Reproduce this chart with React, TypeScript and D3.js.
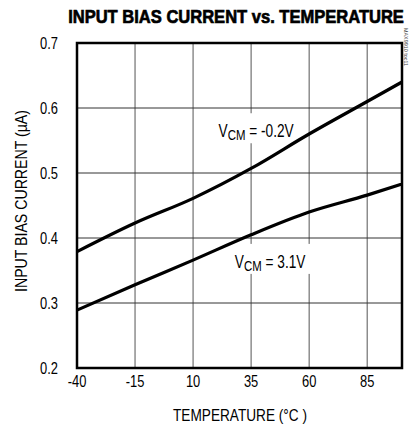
import React, { useEffect, useRef } from "react";
import * as d3 from "d3";

// temperature (°C) sample points
const temps = [-40, -15, 10, 35, 60, 85, 100];
const biasLow = [0.379, 0.423, 0.461, 0.507, 0.56, 0.61, 0.64]; // VCM = -0.2V
const biasHigh = [0.289, 0.328, 0.366, 0.405, 0.44, 0.466, 0.483]; // VCM = 3.1V

const xTicks = [-40, -15, 10, 35, 60, 85];
const yTicks = [0.2, 0.3, 0.4, 0.5, 0.6, 0.7];

const FONT = "'Liberation Sans', Arial, sans-serif";
const SQUEEZE = 0.76; // fake a condensed face

const App = () => {
	const svgRef = useRef<SVGSVGElement>(null);

	useEffect(() => {
		const W = 411;
		const H = 427;
		const margin = { top: 43, right: 9, bottom: 59, left: 77 };

		const svg = d3.select(svgRef.current);
		svg.selectAll("*").remove();

		const x = d3.scaleLinear().domain([-40, 100]).range([margin.left, W - margin.right]);
		const y = d3.scaleLinear().domain([0.2, 0.7]).range([H - margin.bottom, margin.top]);

		svg.append("rect").attr("width", W).attr("height", H).attr("fill", "#fff");

		const narrow = (px: number, py: number, size: number, anchor = "start", sx = SQUEEZE) =>
			svg.append("g")
				.attr("transform", `translate(${px},${py}) scale(${sx},1)`)
				.append("text")
				.attr("text-anchor", anchor)
				.style("font-family", FONT)
				.style("font-size", size + "px");

		// title, squeezed to fit the width it has in the original
		const title = narrow(236, 23, 19, "middle", 1)
			.style("font-weight", "bold")
			.style("stroke", "#000")
			.style("stroke-width", 0.7)
			.text("INPUT BIAS CURRENT vs. TEMPERATURE");
		const tw = (title.node() as SVGTextElement).getComputedTextLength() || 400;
		d3.select(title.node().parentNode as SVGGElement).attr("transform", `translate(236,23) scale(${336 / tw},1)`);

		// grid
		svg.selectAll(".vgrid")
			.data(xTicks.slice(1))
			.join("line")
			.attr("x1", (d) => x(d))
			.attr("x2", (d) => x(d))
			.attr("y1", y(0.7))
			.attr("y2", y(0.2))
			.attr("stroke", "#555")
			.attr("stroke-width", 1);

		svg.selectAll(".hgrid")
			.data(yTicks.slice(1, -1))
			.join("line")
			.attr("x1", x(-40))
			.attr("x2", x(100))
			.attr("y1", (d) => y(d))
			.attr("y2", (d) => y(d))
			.attr("stroke", "#333")
			.attr("stroke-width", 1);

		const line = d3
			.line<number>()
			.x((d, i) => x(temps[i]))
			.y((d) => y(d))
			.curve(d3.curveMonotoneX);

		// label boxes hide the grid behind the labels
		const label = (t: number, v: number, main: string, w: number) => {
			svg.append("rect")
				.attr("x", x(t) - 2)
				.attr("y", y(v) - 24)
				.attr("width", w + 4)
				.attr("height", 30)
				.attr("fill", "#fff");
			const txt = narrow(x(t), y(v), 18);
			txt.append("tspan").text("V");
			txt.append("tspan").attr("dy", 3).style("font-size", "15px").text("CM");
			txt.append("tspan").attr("dy", -3).text(" = " + main);
		};

		label(21, 0.555, "-0.2V", 79);
		label(28, 0.354, "3.1V", 75);

		svg.append("path")
			.datum(biasLow)
			.attr("d", line)
			.attr("fill", "none")
			.attr("stroke", "#000")
			.attr("stroke-width", 3.2);

		svg.append("path")
			.datum(biasHigh)
			.attr("d", line)
			.attr("fill", "none")
			.attr("stroke", "#000")
			.attr("stroke-width", 3.2);

		// frame
		svg.append("rect")
			.attr("x", x(-40))
			.attr("y", y(0.7))
			.attr("width", x(100) - x(-40))
			.attr("height", y(0.2) - y(0.7))
			.attr("fill", "none")
			.attr("stroke", "#000")
			.attr("stroke-width", 2.5);

		// tick labels
		xTicks.forEach((d) => {
			narrow(x(d), 387, 17, "middle").text(String(d));
		});

		yTicks.forEach((d) => {
			narrow(58, y(d) + 6, 17, "end").text(d.toFixed(1));
		});

		// axis titles
		svg.append("text")
			.attr("x", 240)
			.attr("y", 421)
			.attr("text-anchor", "middle")
			.attr("textLength", 134)
			.attr("lengthAdjust", "spacingAndGlyphs")
			.style("font-family", FONT)
			.style("font-size", "17px")
			.text("TEMPERATURE (°C )");

		svg.append("text")
			.attr("transform", "translate(27,201) rotate(-90)")
			.attr("text-anchor", "middle")
			.attr("textLength", 182)
			.attr("lengthAdjust", "spacingAndGlyphs")
			.style("font-family", FONT)
			.style("font-size", "17px")
			.text("INPUT BIAS CURRENT (µA)");

		svg.append("text")
			.attr("transform", "translate(404,28) rotate(90)")
			.attr("textLength", 38)
			.attr("lengthAdjust", "spacingAndGlyphs")
			.style("font-family", FONT)
			.style("font-size", "6px")
			.style("fill", "#444")
			.text("MAX9910 toc11");
	}, []);

	return <svg ref={svgRef} width={411} height={427} style={{ position: "absolute", left: 0, top: 0 }} />;
};

export default App;
